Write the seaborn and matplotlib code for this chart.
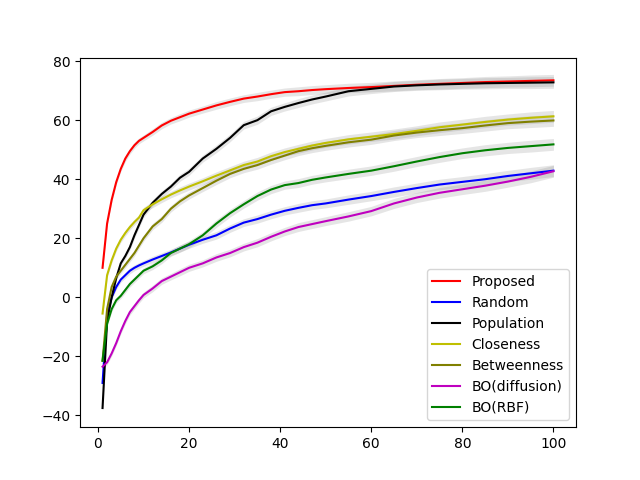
import matplotlib
matplotlib.use("Agg")
import matplotlib.pyplot as plt
import seaborn as sns
import numpy as np

steps = [1, 2, 3, 4, 5, 6, 7, 8, 9, 10, 12, 14, 16, 18, 20, 23, 26, 29, 32, 35,
         38, 41, 44, 47, 50, 55, 60, 65, 70, 75, 80, 85, 90, 95, 100]

proposed = [10, 25, 33, 39, 43.5, 47, 49.5, 51.5, 53, 54, 56, 58.2, 59.8, 61, 62.2, 63.6, 65, 66.2, 67.3, 68,
            68.8, 69.5, 69.8, 70.2, 70.5, 70.9, 71.2, 71.6, 72, 72.3, 72.6, 72.9, 73.1, 73.3, 73.5]
random_sel = [-29, -6, 0, 3.5, 6, 7.5, 9, 10, 10.8, 11.5, 12.8, 14, 15.2, 16.5, 17.8, 19.5, 21, 23.3, 25.3, 26.5,
              28, 29.3, 30.3, 31.2, 31.8, 33.1, 34.3, 35.7, 37, 38.2, 39.1, 40, 41.1, 42, 42.9]
population = [-37.5, -8, 0, 6.5, 11.5, 14, 17, 21, 24.5, 28, 32, 35, 37.5, 40.5, 42.5, 47, 50.3, 54, 58.3, 60,
              63, 64.5, 65.8, 67, 68, 69.8, 70.6, 71.4, 71.8, 72.1, 72.3, 72.5, 72.6, 72.7, 72.8]
closeness = [-5.5, 7.5, 12.5, 16.5, 19.5, 21.8, 23.8, 25.5, 27, 29.5, 31.5, 33.2, 34.8, 36.2, 37.5, 39.3, 41.2, 43, 44.8, 46,
             47.8, 49.2, 50.3, 51.4, 52.3, 53.5, 54.4, 55.3, 56.4, 57.6, 58.5, 59.4, 60.2, 60.8, 61.3]
betweenness = [-21.5, -4, 3.5, 7, 9, 11, 13, 15, 17.5, 20, 24, 26.5, 30, 32.5, 34.5, 37, 39.5, 41.8, 43.5, 44.8,
               46.5, 48, 49.5, 50.5, 51.3, 52.5, 53.4, 54.8, 55.8, 56.6, 57.3, 58.2, 59, 59.5, 59.9]
bo_diffusion = [-23.5, -22, -19, -15.5, -11.5, -8, -5, -3, -1, 0.8, 3, 5.5, 7, 8.5, 10, 11.5, 13.5, 15, 17, 18.5,
                20.5, 22.3, 23.8, 24.8, 25.8, 27.4, 29.2, 31.8, 33.8, 35.4, 36.6, 37.8, 39.2, 40.8, 42.7]
bo_rbf = [-21.5, -9, -4, -1, 0.5, 2.5, 4.5, 6, 7.5, 9, 10.5, 12.5, 15, 16.5, 18, 21, 25, 28.5, 31.5, 34.3,
          36.5, 38, 38.7, 39.8, 40.6, 41.8, 42.9, 44.4, 46, 47.5, 48.8, 49.8, 50.6, 51.2, 51.8]

# half width of the grey band around each curve
spread = [0.8, 0.8, 0.9, 0.9, 0.9, 1.0, 1.0, 1.0, 1.0, 1.0, 1.1, 1.1, 1.1, 1.2, 1.2, 1.2, 1.3, 1.3, 1.3, 1.4,
          1.4, 1.4, 1.5, 1.5, 1.5, 1.6, 1.6, 1.7, 1.7, 1.8, 1.8, 1.9, 1.9, 2.0, 2.0]

names = ['Proposed', 'Random', 'Population', 'Closeness', 'Betweenness', 'BO(diffusion)', 'BO(RBF)']
series = [proposed, random_sel, population, closeness, betweenness, bo_diffusion, bo_rbf]
colors = ['r', 'b', 'k', 'y', 'olive', 'm', 'g']

fig, ax = plt.subplots(figsize=(6.4, 4.8), dpi=100)
x = np.array(steps)
sd = np.array(spread)
for name, vals, c in zip(names, series, colors):
    vals = np.array(vals)
    sns.lineplot(x=x, y=vals, color=c, label=name, ax=ax)
    ax.fill_between(x, vals - sd, vals + sd, color='grey', alpha=0.2, linewidth=0)

ax.legend(loc='lower right')
plt.savefig('out.png')
